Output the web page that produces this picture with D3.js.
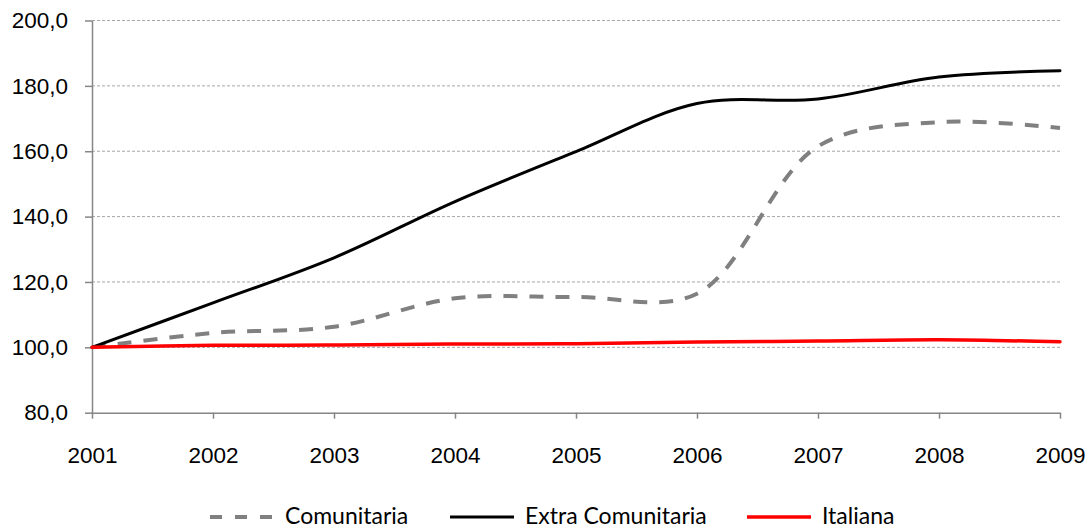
<!DOCTYPE html>
<html>
<head>
<meta charset="utf-8">
<script src="https://cdn.jsdelivr.net/npm/d3@7"></script>
<style>
  body { margin: 0; background: #fff; }
  svg { font-family: Lato, "Open Sans", sans-serif; }
  .grid line { stroke: #a6a6a6; stroke-dasharray: 3,2; stroke-width: 1; }
  .axis path, .axis line { stroke: #868686; stroke-width: 1.5; }
  .axis text { fill: #000; font-size: 22.5px; }
  .legend text { font-size: 23px; fill: #000; }
</style>
</head>
<body>
<svg id="chart" width="1088" height="529"></svg>
<script>
//Indice popolazione per cittadinanza, 2001 = 100

var years = [2001, 2002, 2003, 2004, 2005, 2006, 2007, 2008, 2009];
var comunitaria = [100, 104.4, 106.3, 115.0, 115.4, 116.4, 161.5, 168.9, 167.1];
var extraComunitaria = [100, 113.6, 127.4, 144.6, 159.9, 174.6, 176.0, 182.7, 184.6];
var italiana = [100, 100.6, 100.7, 101.0, 101.1, 101.6, 101.9, 102.3, 101.7];
var yTicks = [80, 100, 120, 140, 160, 180, 200];

var series = [
  {name: "Comunitaria", values: comunitaria, color: "#808080", width: 4, dash: "14,12", legendDash: "12,13"},
  {name: "Extra Comunitaria", values: extraComunitaria, color: "#000000", width: 3, dash: null, legendDash: null},
  {name: "Italiana", values: italiana, color: "#ff0000", width: 3.5, dash: null, legendDash: null}
];

var svg = d3.select("#chart");
let mLeft = 92, mRight = 1060, mTop = 20.5, mBottom = 412.7;

let xScale = d3.scaleLinear().domain([2001, 2009]).range([mLeft, mRight]);
let yScale = d3.scaleLinear().domain([80, 200]).range([mBottom, mTop]);

//grid
svg.append("g")
  .classed("grid", true)
  .selectAll("line").data(yTicks.filter(d => d > 80)).enter().append("line")
  .attr("x1", mLeft)
  .attr("x2", mRight)
  .attr("y1", d => yScale(d))
  .attr("y2", d => yScale(d));

let fmt = d => d3.format(".1f")(d).replace(".", ",");

let yAxis = d3.axisLeft(yScale).tickValues(yTicks).tickFormat(fmt).tickSize(7).tickSizeOuter(0).tickPadding(17);
let xAxis = d3.axisBottom(xScale).tickValues(years).tickFormat(d3.format("d")).tickSize(6).tickSizeOuter(0).tickPadding(28);

svg.append("g")
  .classed("axis", true)
  .attr("transform", "translate(" + mLeft + ",0)")
  .call(yAxis);

svg.append("g")
  .classed("axis", true)
  .attr("transform", "translate(0," + mBottom + ")")
  .call(xAxis);

let line = d3.line()
  .curve(d3.curveCatmullRom.alpha(0.5))
  .x((d, i) => xScale(years[i]))
  .y(d => yScale(d));

series.forEach(function(s){
  svg.append("path")
    .datum(s.values)
    .attr("fill", "none")
    .attr("stroke", s.color)
    .attr("stroke-width", s.width)
    .attr("stroke-linecap", s.dash ? "butt" : "round")
    .attr("stroke-dasharray", s.dash)
    .attr("d", line);
});

//legend
let legendX = [210, 450, 747];
let legend = svg.append("g").classed("legend", true);
series.forEach(function(s, i){
  let g = legend.append("g").attr("transform", "translate(" + legendX[i] + ",517)");
  g.append("line")
    .attr("x1", 0).attr("x2", 64)
    .attr("stroke", s.color)
    .attr("stroke-width", s.width)
    .attr("stroke-dasharray", s.legendDash);
  g.append("text")
    .attr("x", 75)
    .attr("y", 7)
    .text(s.name);
});
</script>
</body>
</html>
